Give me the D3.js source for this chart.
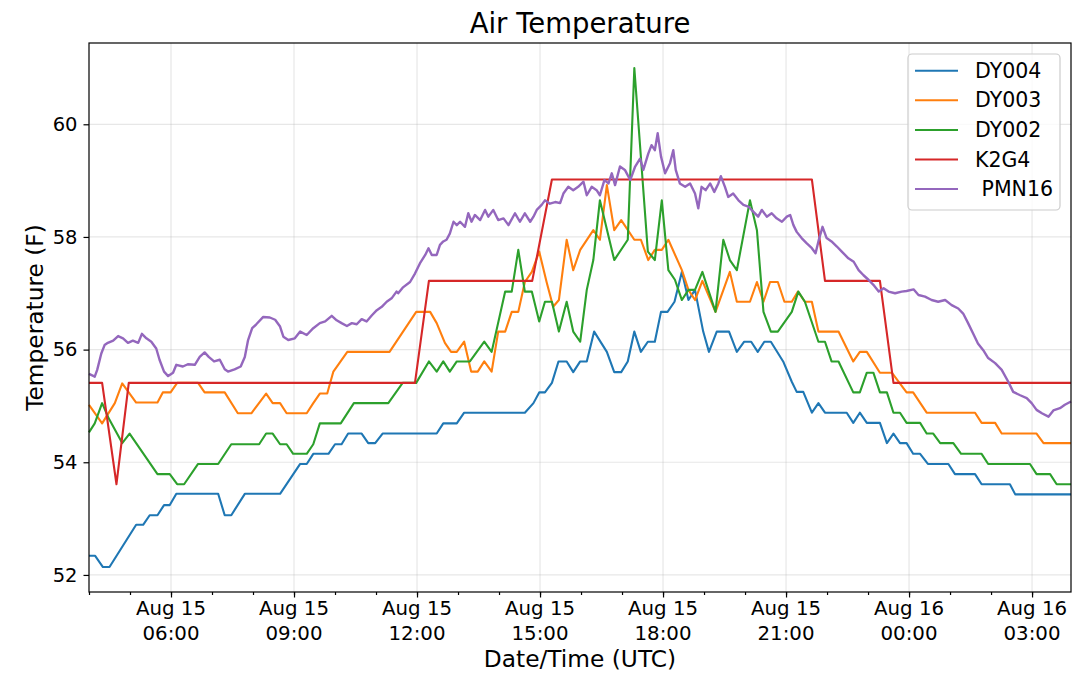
<html>
<head>
<meta charset="utf-8">
<title>Air Temperature</title>
<script type="text/javascript" src="https://cdnjs.cloudflare.com/ajax/libs/d3/7.8.5/d3.min.js"></script>
<style>
body { margin: 0; background: #fff; }
text { font-family: "DejaVu Sans", sans-serif; fill: #000; }
</style>
</head>
<body>
<script type="text/javascript">
// time = hours after Aug 15 00:00 UTC, value = temperature (F)
var dy004 = [[4.00,52.34],[4.15,52.34],[4.34,52.14],[4.50,52.14],[5.15,52.89],[5.32,52.89],[5.48,53.06],[5.67,53.06],
  [5.83,53.24],[5.97,53.24],[6.13,53.44],[7.15,53.44],[7.31,53.06],[7.47,53.06],[7.80,53.44],[8.66,53.44],[9.15,53.97],
  [9.31,53.97],[9.47,54.15],[9.84,54.15],[10.00,54.32],[10.16,54.32],[10.32,54.51],[10.65,54.51],[10.81,54.34],[10.98,54.34],
  [11.16,54.51],[12.48,54.51],[12.64,54.69],[12.97,54.69],[13.15,54.88],[14.63,54.88],[14.84,55.05],[14.98,55.24],[15.12,55.24],
  [15.29,55.41],[15.45,55.79],[15.65,55.79],[15.81,55.60],[15.98,55.79],[16.14,55.79],[16.32,56.32],[16.63,55.96],[16.81,55.60],
  [16.98,55.60],[17.14,55.79],[17.30,56.32],[17.46,55.96],[17.63,56.14],[17.80,56.14],[17.95,56.67],[18.11,56.67],[18.28,56.85],
  [18.46,57.38],[18.62,56.88],[18.78,57.06],[18.98,56.32],[19.12,55.96],[19.31,56.32],[19.61,56.32],[19.80,55.96],[19.98,56.14],
  [20.15,56.14],[20.31,55.96],[20.47,56.14],[20.63,56.14],[20.93,55.79],[21.14,55.43],[21.26,55.25],[21.42,55.25],[21.63,54.88],
  [21.79,55.05],[21.95,54.88],[22.48,54.88],[22.64,54.70],[22.80,54.88],[22.97,54.70],[23.29,54.70],[23.46,54.34],[23.62,54.51],
  [23.78,54.34],[23.94,54.34],[24.10,54.15],[24.27,54.15],[24.46,53.97],[24.96,53.97],[25.12,53.79],[25.61,53.79],[25.77,53.61],
  [26.46,53.61],[26.59,53.43],[27.95,53.43]]

var dy003 = [[4.00,55.02],[4.32,54.69],[4.63,55.05],[4.81,55.40],[5.15,55.06],[5.67,55.06],[5.80,55.24],[5.99,55.24],[6.15,55.41],
  [6.66,55.41],[6.82,55.24],[7.31,55.24],[7.63,54.87],[7.96,54.87],[8.32,55.22],[8.48,55.05],[8.66,55.05],[8.82,54.87],[9.31,54.87],
  [9.47,55.05],[9.63,55.22],[9.81,55.22],[9.96,55.61],[10.30,55.96],[11.33,55.96],[11.98,56.67],[12.32,56.67],[12.48,56.47],
  [12.68,56.12],[12.83,55.96],[12.97,55.96],[13.15,56.14],[13.32,55.61],[13.48,55.61],[13.64,55.79],[13.82,55.61],[13.98,56.32],
  [14.15,56.32],[14.31,56.67],[14.47,56.67],[14.63,57.20],[14.80,57.38],[14.98,57.74],[15.16,57.20],[15.32,56.76],[15.46,56.88],
  [15.65,57.95],[15.81,57.41],[15.98,57.77],[16.30,58.12],[16.46,57.95],[16.63,58.92],[16.81,58.12],[16.98,58.30],[17.30,57.95],
  [17.46,57.95],[17.64,57.59],[17.80,57.77],[17.97,57.77],[18.13,57.95],[18.46,57.41],[18.62,57.06],[18.78,56.88],[18.96,57.22],
  [19.28,56.67],[19.63,57.38],[19.80,56.85],[20.12,56.85],[20.29,57.20],[20.45,56.85],[20.61,57.20],[20.80,57.20],[20.96,56.85],
  [21.14,56.85],[21.29,57.03],[21.46,56.85],[21.63,56.85],[21.79,56.32],[22.28,56.32],[22.64,55.79],[22.80,55.96],[22.97,55.96],
  [23.29,55.59],[23.58,55.59],[23.94,55.24],[24.10,55.24],[24.43,54.88],[25.61,54.88],[25.77,54.70],[26.10,54.70],[26.26,54.51],
  [27.11,54.51],[27.28,54.34],[27.95,54.34]]

var dy002 = [[4.00,54.53],[4.14,54.69],[4.32,55.05],[4.48,54.78],[4.81,54.34],[4.99,54.51],[5.67,53.79],[5.97,53.79],[6.15,53.61],
  [6.32,53.61],[6.66,53.97],[7.15,53.97],[7.47,54.32],[8.15,54.32],[8.32,54.51],[8.48,54.51],[8.66,54.32],[8.82,54.32],[8.98,54.15],
  [9.31,54.15],[9.47,54.32],[9.63,54.69],[10.14,54.69],[10.46,55.05],[11.30,55.05],[11.65,55.41],[11.98,55.41],[12.29,55.79],
  [12.48,55.61],[12.64,55.79],[12.80,55.61],[12.97,55.79],[13.29,55.79],[13.64,56.14],[13.82,55.96],[14.15,57.03],[14.31,57.03],
  [14.47,57.77],[14.63,57.03],[14.80,57.03],[14.98,56.50],[15.12,56.85],[15.29,56.85],[15.46,56.32],[15.65,56.85],[15.81,56.32],
  [15.98,56.14],[16.14,57.06],[16.30,57.59],[16.46,58.65],[16.81,57.59],[17.14,57.95],[17.30,61.00],[17.63,57.74],[17.80,57.59],
  [17.97,58.65],[18.13,57.41],[18.29,57.24],[18.46,56.88],[18.62,57.06],[18.78,57.06],[18.96,57.38],[19.28,56.67],[19.47,57.95],
  [19.63,57.59],[19.80,57.41],[20.12,58.65],[20.29,58.12],[20.45,56.67],[20.63,56.32],[20.80,56.32],[21.14,56.67],[21.30,57.03],
  [21.46,56.85],[21.79,56.14],[21.95,56.14],[22.11,55.79],[22.28,55.79],[22.64,55.24],[22.80,55.24],[22.97,55.59],[23.13,55.59],
  [23.29,55.24],[23.46,55.24],[23.62,54.88],[23.78,54.88],[23.94,54.70],[24.27,54.70],[24.43,54.51],[24.59,54.51],[24.76,54.34],
  [25.08,54.34],[25.27,54.15],[25.77,54.15],[25.93,53.97],[26.95,53.97],[27.11,53.79],[27.44,53.79],[27.60,53.61],[27.95,53.61]]

var k2g4 = [[4.00,55.41],[4.32,55.41],[4.67,53.61],[4.97,55.41],[11.95,55.41],[12.29,57.22],[14.81,57.22],[15.29,59.02],
  [21.63,59.02],[21.95,57.22],[23.29,57.22],[23.62,55.41],[27.95,55.41]]

var pmn16 = [[4.00,55.57],[4.14,55.52],[4.20,55.64],[4.30,55.93],[4.38,56.08],[4.46,56.12],[4.59,56.16],[4.71,56.24],[4.83,56.20],
  [4.95,56.12],[5.07,56.16],[5.20,56.12],[5.29,56.28],[5.40,56.20],[5.52,56.14],[5.64,56.02],[5.72,55.82],[5.83,55.61],[5.93,55.53],
  [6.05,55.59],[6.13,55.73],[6.29,55.70],[6.41,55.74],[6.58,55.73],[6.70,55.87],[6.82,55.95],[6.92,55.87],[7.05,55.79],[7.19,55.82],
  [7.31,55.65],[7.39,55.61],[7.55,55.65],[7.70,55.70],[7.80,55.87],[7.88,56.17],[7.98,56.38],[8.08,56.45],[8.25,56.58],[8.41,56.57],
  [8.54,56.53],[8.66,56.41],[8.74,56.23],[8.86,56.17],[9.02,56.20],[9.15,56.32],[9.31,56.26],[9.47,56.38],[9.63,56.47],[9.76,56.50],
  [9.92,56.60],[10.04,56.52],[10.16,56.47],[10.29,56.42],[10.41,56.47],[10.53,56.45],[10.65,56.54],[10.77,56.50],[10.90,56.61],
  [11.02,56.70],[11.14,56.76],[11.26,56.85],[11.38,56.91],[11.50,57.03],[11.54,57.00],[11.65,57.10],[11.83,57.20],[11.95,57.35],
  [12.07,57.53],[12.20,57.68],[12.28,57.80],[12.36,57.68],[12.48,57.68],[12.56,57.86],[12.64,57.92],[12.72,57.95],[12.80,58.06],
  [12.89,58.27],[12.97,58.21],[13.05,58.27],[13.17,58.18],[13.25,58.42],[13.33,58.27],[13.41,58.39],[13.54,58.30],[13.66,58.48],
  [13.74,58.36],[13.86,58.48],[13.98,58.30],[14.11,58.33],[14.23,58.21],[14.39,58.42],[14.51,58.27],[14.63,58.42],[14.76,58.27],
  [14.84,58.36],[14.92,58.48],[15.04,58.57],[15.12,58.65],[15.24,58.59],[15.37,58.62],[15.49,58.60],[15.57,58.77],[15.69,58.89],
  [15.81,58.83],[15.93,58.89],[16.06,58.98],[16.14,58.74],[16.26,58.89],[16.38,58.83],[16.46,58.74],[16.57,59.01],[16.67,58.95],
  [16.75,59.13],[16.83,58.92],[16.95,59.25],[17.07,59.19],[17.20,59.01],[17.32,59.25],[17.44,59.39],[17.52,59.19],[17.64,59.48],
  [17.72,59.63],[17.80,59.54],[17.87,59.84],[17.95,59.43],[18.05,59.13],[18.17,59.31],[18.25,59.54],[18.31,59.19],[18.41,58.95],
  [18.54,58.89],[18.66,58.95],[18.78,58.77],[18.86,58.51],[18.94,58.89],[19.04,58.83],[19.15,58.95],[19.25,58.80],[19.35,58.95],
  [19.41,59.08],[19.51,58.89],[19.59,58.71],[19.71,58.77],[19.84,58.65],[19.96,58.57],[20.08,58.54],[20.20,58.45],[20.32,58.36],
  [20.41,58.48],[20.53,58.36],[20.65,58.42],[20.77,58.33],[20.90,58.27],[21.02,58.36],[21.10,58.39],[21.18,58.21],[21.26,58.09],
  [21.38,57.98],[21.50,57.89],[21.63,57.80],[21.72,57.71],[21.80,57.95],[21.89,58.18],[21.99,57.98],[22.11,57.92],[22.24,57.83],
  [22.36,57.74],[22.52,57.62],[22.65,57.56],[22.77,57.41],[22.89,57.32],[23.01,57.24],[23.13,57.15],[23.26,57.03],[23.38,57.09],
  [23.50,57.03],[23.66,57.00],[23.82,57.03],[23.94,57.04],[24.11,57.07],[24.23,56.97],[24.39,56.94],[24.55,56.88],[24.71,56.85],
  [24.88,56.88],[25.04,56.79],[25.20,56.73],[25.32,56.64],[25.44,56.47],[25.56,56.29],[25.68,56.11],[25.81,55.99],[25.93,55.85],
  [26.10,55.76],[26.26,55.64],[26.42,55.43],[26.54,55.25],[26.71,55.19],[26.87,55.14],[26.99,55.05],[27.11,54.93],[27.24,54.87],
  [27.40,54.81],[27.52,54.92],[27.68,54.96],[27.80,55.02],[27.95,55.08]]

var names = ['DY004', 'DY003', 'DY002', 'K2G4', ' PMN16']
var colors = ['#1f77b4', '#ff7f0e', '#2ca02c', '#d62728', '#9467bd']
var series = [dy004, dy003, dy002, k2g4, pmn16]
var yTicks = [52, 54, 56, 58, 60]

var W = 1080, H = 681
var box = {left: 89, right: 1071, top: 43, bottom: 592}
var t0 = Date.UTC(2018, 7, 15)
function toDate(h) { return new Date(t0 + h * 3600000) }

var svg = d3.select('body').append('svg')
	.attr('width', W)
	.attr('height', H)

var allT = [], allV = []
series.forEach(function (s) {
	s.forEach(function (d) { allT.push(d[0]); allV.push(d[1]) })
})
var tExt = d3.extent(allT)
var vExt = d3.extent(allV)
var pad = (vExt[1] - vExt[0]) * 0.05

var x = d3.scaleUtc()
	.domain([toDate(tExt[0]), toDate(tExt[1])])
	.range([box.left, box.right])
var y = d3.scaleLinear()
	.domain([vExt[0] - pad, vExt[1] + pad])
	.range([box.bottom, box.top])

var majorX = d3.utcHour.every(3).range(x.domain()[0], x.domain()[1])
var minorX = d3.utcHour.every(1).range(x.domain()[0], new Date(+x.domain()[1] + 1))

// grid
svg.append('g').selectAll('line.vg')
	.data(majorX).enter().append('line')
	.attr('x1', function (d) { return x(d) }).attr('x2', function (d) { return x(d) })
	.attr('y1', box.top).attr('y2', box.bottom)
	.attr('stroke', '#b0b0b0').attr('stroke-opacity', 0.3).attr('stroke-width', 1.2)
svg.append('g').selectAll('line.hg')
	.data(yTicks).enter().append('line')
	.attr('y1', function (d) { return y(d) }).attr('y2', function (d) { return y(d) })
	.attr('x1', box.left).attr('x2', box.right)
	.attr('stroke', '#b0b0b0').attr('stroke-opacity', 0.3).attr('stroke-width', 1.2)

// lines
var line = d3.line()
	.x(function (d) { return x(toDate(d[0])) })
	.y(function (d) { return y(d[1]) })

svg.append('g').selectAll('path')
	.data(series).enter().append('path')
	.attr('d', line)
	.attr('fill', 'none')
	.attr('stroke', function (d, i) { return colors[i] })
	.attr('stroke-width', function (d, i) { return i == 4 ? 2.4 : 2.1 })
	.attr('stroke-linejoin', 'round')

// axes
var xMinor = svg.append('g')
	.attr('transform', 'translate(0,' + box.bottom + ')')
	.call(d3.axisBottom(x).tickValues(minorX).tickSize(3).tickFormat(''))
var xMajor = svg.append('g')
	.attr('transform', 'translate(0,' + box.bottom + ')')
	.call(d3.axisBottom(x).tickValues(majorX).tickSize(5.5).tickFormat(''))
var yAxis = svg.append('g')
	.attr('transform', 'translate(' + box.left + ',0)')
	.call(d3.axisLeft(y).tickValues(yTicks).tickSize(5.5).tickPadding(6))
svg.selectAll('.domain').remove()
svg.selectAll('.tick line').attr('stroke', '#000').attr('stroke-width', 1.2)
yAxis.selectAll('text')
	.attr('font-size', '19.5px')
	.attr('font-family', 'DejaVu Sans')
	.attr('fill', '#000')

var fDay = d3.utcFormat('%b %d'), fHour = d3.utcFormat('%H:%M')
var xl = svg.append('g').selectAll('text')
	.data(majorX).enter().append('text')
	.attr('text-anchor', 'middle')
	.attr('font-size', '19.8px')
xl.append('tspan')
	.attr('x', function (d) { return x(d) }).attr('y', 615)
	.text(function (d) { return fDay(d) })
xl.append('tspan')
	.attr('x', function (d) { return x(d) }).attr('y', 640)
	.text(function (d) { return fHour(d) })

// frame
svg.append('rect')
	.attr('x', box.left).attr('y', box.top)
	.attr('width', box.right - box.left).attr('height', box.bottom - box.top)
	.attr('fill', 'none').attr('stroke', '#000').attr('stroke-width', 1.2)

// labels
svg.append('text')
	.attr('x', (box.left + box.right) / 2).attr('y', 33)
	.attr('text-anchor', 'middle').attr('font-size', '27.5px')
	.text('Air Temperature')
svg.append('text')
	.attr('x', (box.left + box.right) / 2).attr('y', 667)
	.attr('text-anchor', 'middle').attr('font-size', '23.3px')
	.text('Date/Time (UTC)')
svg.append('text')
	.attr('transform', 'translate(43,' + (box.top + box.bottom) / 2 + ') rotate(-90)')
	.attr('text-anchor', 'middle').attr('font-size', '23.3px')
	.text('Temperature (F)')

// legend
var lg = svg.append('g')
lg.append('rect')
	.attr('x', 908).attr('y', 54).attr('width', 152).attr('height', 156).attr('rx', 4)
	.attr('fill', '#fff').attr('fill-opacity', 0.8)
	.attr('stroke', '#cccccc').attr('stroke-width', 1.2)
var items = lg.selectAll('g.item')
	.data(names).enter().append('g')
	.attr('transform', function (d, i) { return 'translate(0,' + (70.7 + i * 29.6) + ')' })
items.append('line')
	.attr('x1', 915).attr('x2', 958)
	.attr('stroke', function (d, i) { return colors[i] })
	.attr('stroke-width', 2)
items.append('text')
	.attr('x', 975).attr('dy', '0.35em')
	.attr('font-size', '20.5px')
	.style('white-space', 'pre')
	.text(function (d) { return d })
</script>
</body>
</html>
